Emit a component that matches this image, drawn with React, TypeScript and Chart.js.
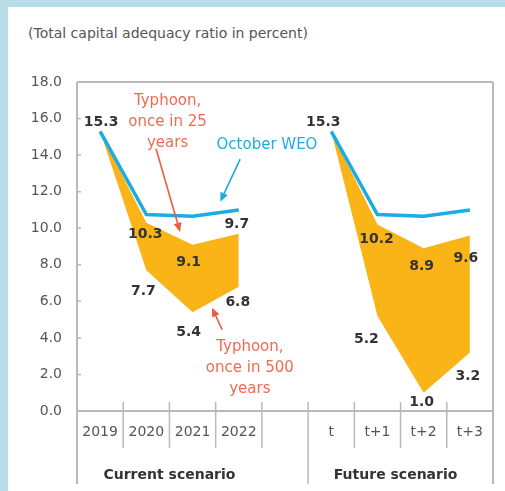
import React, { useEffect, useRef } from 'react';
import { Chart, registerables } from 'chart.js';

Chart.register(...registerables);

// ---- data ----
const categories = ['2019', '2020', '2021', '2022', '', 't', 't+1', 't+2', 't+3'];
const octoberWEO = [15.3, 10.75, 10.65, 11.0, null, 15.3, 10.75, 10.65, 11.0];
const typhoon25 = [15.3, 10.3, 9.1, 9.7, null, 15.3, 10.2, 8.9, 9.6];
const typhoon500 = [15.3, 7.7, 5.4, 6.8, null, 15.3, 5.2, 1.0, 3.2];
const yMin = 0;
const yMax = 18;
const yStep = 2;
const groupLabels = ['Current scenario', 'Future scenario'];
const groupRanges = [[0, 4], [5, 9]]; // category boundary indices
const titleText = '(Total capital adequacy ratio in percent)';

// ---- styles ----
const BLUE = '#1aace4';
const ORANGE = '#fbb417';
const RED_TXT = '#f26a4f';
const RED_ARROW = '#ef5b3f';
const GRID = '#b9b9b9';
const FONT = '"DejaVu Sans", sans-serif';

// label offsets (px) relative to point, null = no label
const upperOffsets: ([number, number] | null)[] = [[1, -9], [-1, 12], [-4, 18], [-2, -9], null, [-8, -9], [-1, 15], [-2, 18], [-4, 23]];
const lowerOffsets: ([number, number] | null)[] = [null, [-3, 21], [-4, 20], [-1, 16], null, null, [-11, 23], [-2, 10], [-2, 24]];

// annotations in data coordinates (category index, value)
const annotations = [
  { lines: ['Typhoon,', 'once in 25', 'years'], x: 1.46, y: 16.95, color: RED_TXT },
  { lines: ['October WEO'], x: 3.61, y: 14.54, color: BLUE },
  { lines: ['Typhoon,', 'once in 500', 'years'], x: 3.24, y: 3.5, color: RED_TXT },
];
const arrows = [
  { from: [1.21, 14.35], to: [1.73, 9.8], color: RED_ARROW },
  { from: [3.03, 13.78], to: [2.6, 11.45], color: BLUE },
  { from: [2.64, 4.45], to: [2.42, 5.65], color: RED_ARROW },
];

const decorPlugin = {
  id: 'decor',
  afterDraw(chart: any) {
    const ctx = chart.ctx as CanvasRenderingContext2D;
    const ca = chart.chartArea;
    const xs = chart.scales.x;
    const ys = chart.scales.y;
    const n = categories.length;
    const cw = (ca.right - ca.left) / n;
    const bx = (i: number) => ca.left + i * cw;
    const px = (v: number) => xs.getPixelForValue(0) + v * cw;
    ctx.save();
    // frame
    ctx.strokeStyle = GRID;
    ctx.lineWidth = 2;
    ctx.beginPath();
    ctx.moveTo(ca.left, ca.top);
    ctx.lineTo(ca.right, ca.top);
    ctx.moveTo(ca.right, ca.top);
    ctx.lineTo(ca.right, ca.bottom + 73);
    ctx.moveTo(ca.left, ca.top);
    ctx.lineTo(ca.left, ca.bottom + 73);
    ctx.moveTo(ca.left, ca.bottom);
    ctx.lineTo(ca.right, ca.bottom);
    ctx.stroke();
    // separators
    ctx.lineWidth = 1.5;
    ctx.beginPath();
    for (let i = 1; i < n; i++) {
      const x = bx(i);
      const long = groupRanges.some((r) => r[0] === i && i !== 0);
      ctx.moveTo(x, ca.bottom - 9);
      ctx.lineTo(x, long ? ca.bottom + 73 : ca.bottom + 37);
    }
    ctx.stroke();
    // y ticks (inward)
    ctx.beginPath();
    for (let v = yMin; v <= yMax; v += yStep) {
      const y = ys.getPixelForValue(v);
      ctx.moveTo(ca.left, y);
      ctx.lineTo(ca.left + 4, y);
    }
    ctx.stroke();

    // group labels
    ctx.fillStyle = '#333';
    ctx.font = `bold 14px ${FONT}`;
    ctx.textAlign = 'center';
    ctx.textBaseline = 'middle';
    groupLabels.forEach((g, k) => {
      const [a, b] = groupRanges[k];
      ctx.fillText(g, (bx(a) + bx(b)) / 2 - (k === 1 ? 5 : 0), ca.bottom + 64);
    });

    // data labels
    ctx.font = `bold 14px ${FONT}`;
    ctx.fillStyle = '#333';
    const drawLabels = (vals: (number | null)[], offs: ([number, number] | null)[]) => {
      vals.forEach((v, i) => {
        const o = offs[i];
        if (v == null || !o) return;
        const x = xs.getPixelForValue(i) + o[0];
        const y = ys.getPixelForValue(v) + o[1];
        ctx.fillText(v.toFixed(1), x, y);
      });
    };
    drawLabels(typhoon25, upperOffsets);
    drawLabels(typhoon500, lowerOffsets);

    // annotations
    ctx.font = `15px ${FONT}`;
    annotations.forEach((a) => {
      ctx.fillStyle = a.color;
      const x = px(a.x);
      const y0 = ys.getPixelForValue(a.y);
      a.lines.forEach((l, k) => ctx.fillText(l, x, y0 + k * 21));
    });
    arrows.forEach((a) => {
      const x1 = px(a.from[0]);
      const y1 = ys.getPixelForValue(a.from[1]);
      const x2 = px(a.to[0]);
      const y2 = ys.getPixelForValue(a.to[1]);
      const ang = Math.atan2(y2 - y1, x2 - x1);
      const hl = 9;
      const hw = 4;
      ctx.strokeStyle = a.color;
      ctx.fillStyle = a.color;
      ctx.lineWidth = 1.6;
      ctx.beginPath();
      ctx.moveTo(x1, y1);
      ctx.lineTo(x2 - Math.cos(ang) * hl * 0.8, y2 - Math.sin(ang) * hl * 0.8);
      ctx.stroke();
      ctx.beginPath();
      ctx.moveTo(x2, y2);
      ctx.lineTo(x2 - Math.cos(ang) * hl - Math.sin(ang) * hw, y2 - Math.sin(ang) * hl + Math.cos(ang) * hw);
      ctx.lineTo(x2 - Math.cos(ang) * hl + Math.sin(ang) * hw, y2 - Math.sin(ang) * hl - Math.cos(ang) * hw);
      ctx.closePath();
      ctx.fill();
    });
    ctx.restore();
  },
};

export default function App() {
  const ref = useRef<HTMLCanvasElement>(null);
  useEffect(() => {
    if (!ref.current) return;
    const chart = new Chart(ref.current, {
      type: 'line',
      data: {
        labels: categories,
        datasets: [
          {
            label: 'October WEO',
            data: octoberWEO,
            borderColor: BLUE,
            borderWidth: 3.5,
            pointRadius: 0,
            fill: false,
            tension: 0,
            order: 0,
            spanGaps: false,
          },
          {
            label: 'Typhoon, once in 25 years',
            data: typhoon25,
            borderWidth: 0,
            borderColor: ORANGE,
            backgroundColor: ORANGE,
            pointRadius: 0,
            fill: '+1',
            tension: 0,
            order: 1,
            spanGaps: false,
          },
          {
            label: 'Typhoon, once in 500 years',
            data: typhoon500,
            borderWidth: 0,
            borderColor: ORANGE,
            backgroundColor: ORANGE,
            pointRadius: 0,
            fill: false,
            tension: 0,
            order: 2,
            spanGaps: false,
          },
        ],
      },
      options: {
        responsive: false,
        animation: false,
        layout: { padding: { top: 75, right: 12, left: 0, bottom: 0 } },
        plugins: { legend: { display: false }, tooltip: { enabled: false }, title: { display: false } },
        scales: {
          x: {
            type: 'category',
            offset: true,
            grid: { display: false, drawTicks: false },
            border: { display: false },
            ticks: { color: '#555', font: { family: FONT, size: 14 }, padding: 13, maxRotation: 0, autoSkip: false },
            afterFit: (s: any) => { s.height = 80; },
          },
          y: {
            min: yMin,
            max: yMax,
            grid: { display: false, drawTicks: false },
            border: { display: false },
            ticks: {
              stepSize: yStep,
              color: '#555',
              font: { family: FONT, size: 14 },
              padding: 15,
              callback: (v: any) => Number(v).toFixed(1),
            },
            afterFit: (s: any) => { s.width = 69; },
          },
        },
      },
      plugins: [decorPlugin],
    });
    return () => chart.destroy();
  }, []);

  return (
    <div style={{ position: 'fixed', inset: 0, background: '#b6dde8' }}>
      <div style={{ position: 'absolute', left: 8, top: 7, right: 0, bottom: 0, background: '#fff' }}>
        <div
          style={{
            position: 'absolute',
            left: 20,
            top: 16,
            fontFamily: FONT,
            fontSize: 14,
            color: '#555',
            lineHeight: '20px',
            whiteSpace: 'nowrap',
          }}
        >
          {titleText}
        </div>
        <canvas ref={ref} width={497} height={484} style={{ position: 'absolute', left: 0, top: 0 }} />
      </div>
    </div>
  );
}
